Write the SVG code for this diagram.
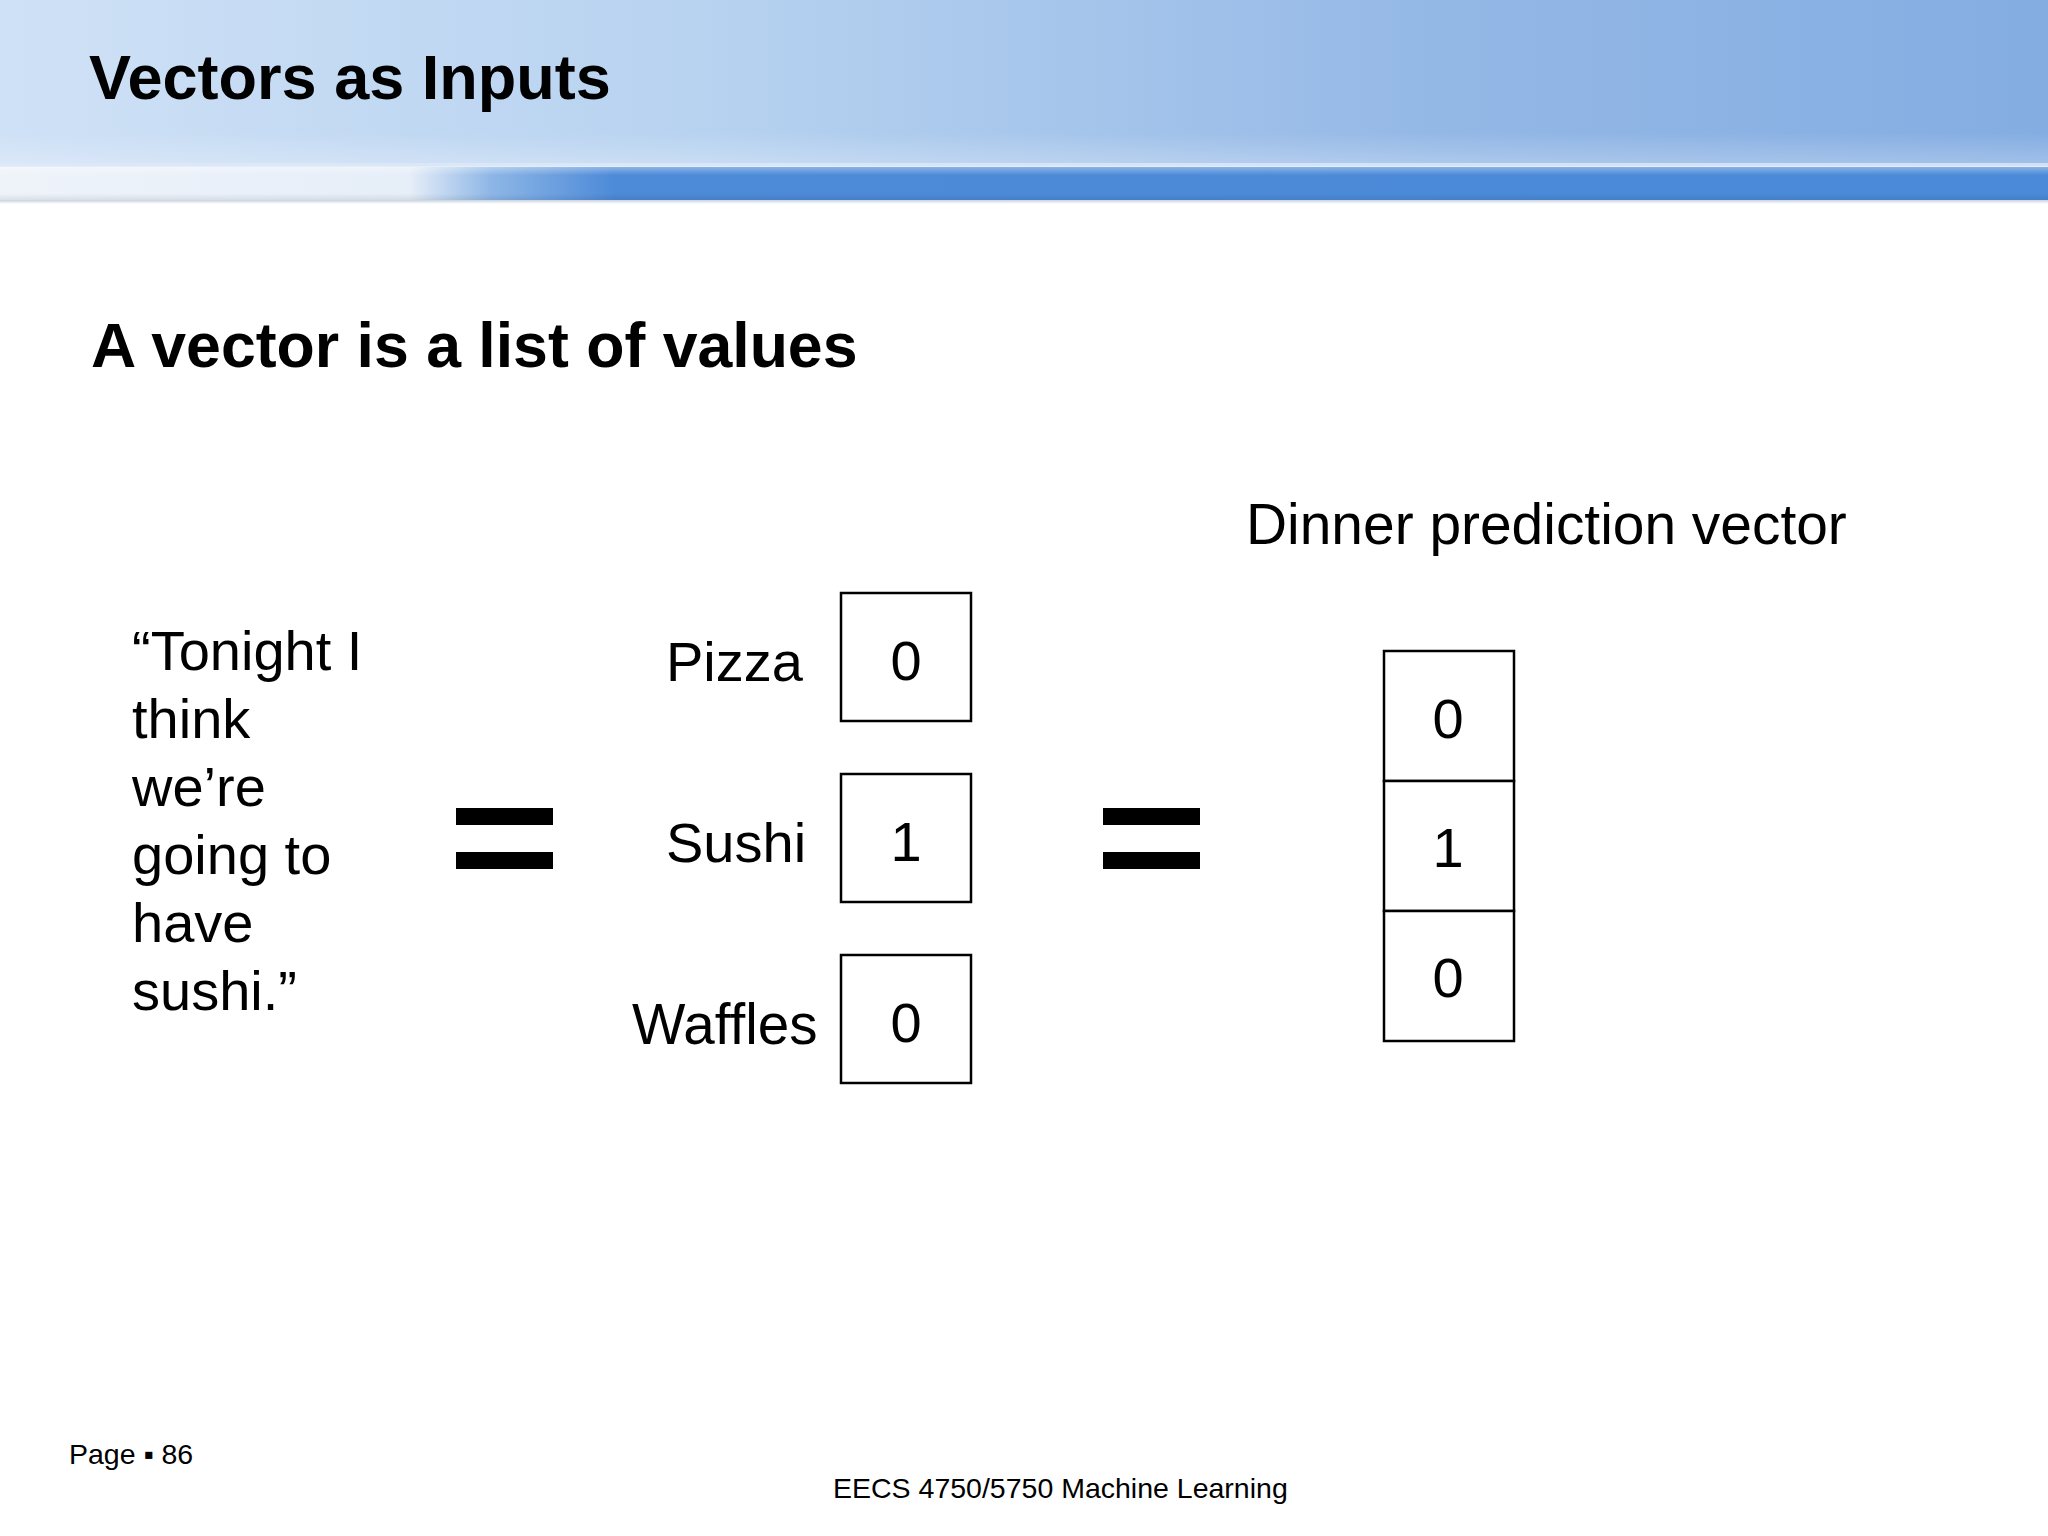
<svg xmlns="http://www.w3.org/2000/svg" width="2048" height="1536" viewBox="0 0 2048 1536">
<defs>
<linearGradient id="hdr" x1="0" y1="0" x2="1" y2="0">
<stop offset="0" stop-color="#cfe1f6"/>
<stop offset="0.35" stop-color="#b7d2f0"/>
<stop offset="0.7" stop-color="#94b8e6"/>
<stop offset="1" stop-color="#84ade2"/>
</linearGradient>
<linearGradient id="hdrV" x1="0" y1="0" x2="0" y2="1">
<stop offset="0.8" stop-color="#ffffff" stop-opacity="0"/>
<stop offset="1" stop-color="#ffffff" stop-opacity="0.25"/>
</linearGradient>
<linearGradient id="stripe" x1="0" y1="0" x2="2048" y2="0" gradientUnits="userSpaceOnUse">
<stop offset="0" stop-color="#eef3fa"/>
<stop offset="0.2" stop-color="#e6eef8"/>
<stop offset="0.24" stop-color="#8db6e6"/>
<stop offset="0.3" stop-color="#4d8ad8"/>
<stop offset="1" stop-color="#4a8ad8"/>
</linearGradient>
<linearGradient id="stripeV" x1="0" y1="0" x2="0" y2="1">
<stop offset="0" stop-color="#ffffff" stop-opacity="0.35"/>
<stop offset="0.25" stop-color="#ffffff" stop-opacity="0"/>
<stop offset="0.8" stop-color="#000000" stop-opacity="0"/>
<stop offset="1" stop-color="#000000" stop-opacity="0.08"/>
</linearGradient>
<linearGradient id="shadow" x1="0" y1="0" x2="0" y2="1">
<stop offset="0" stop-color="#c8d4e2"/>
<stop offset="1" stop-color="#ffffff"/>
</linearGradient>
</defs>
<style>
text{font-family:"Liberation Sans",Arial,sans-serif;fill:#000}
.h{font-weight:bold}
.t{font-size:56px}
.d{font-size:56px;text-anchor:middle}
.f{font-size:28.5px}
.cell{fill:#fff;stroke:#000;stroke-width:2.5}
.eq{fill:#000}
</style>
<rect width="2048" height="1536" fill="#fff"/>
<g id="header">
<rect x="0" y="0" width="2048" height="166" fill="url(#hdr)"/>
<rect x="0" y="0" width="2048" height="166" fill="url(#hdrV)"/>
<rect x="0" y="163" width="2048" height="4" fill="#dde9f7" opacity="0.8"/>
<rect x="0" y="167" width="2048" height="33" fill="url(#stripe)"/>
<rect x="0" y="167" width="2048" height="33" fill="url(#stripeV)"/>
<rect x="0" y="200" width="2048" height="4" fill="url(#shadow)"/>
<text x="89" y="99" class="h" font-size="63">Vectors as Inputs</text>
</g>
<text id="subtitle" x="91" y="367" class="h" font-size="62.6">A vector is a list of values</text>
<g id="sentence" class="t">
<text x="132" y="670">“Tonight I</text>
<text x="132" y="738">think</text>
<text x="132" y="806">we’re</text>
<text x="132" y="874">going to</text>
<text x="132" y="942">have</text>
<text x="132" y="1010">sushi.”</text>
</g>
<g id="eq1">
<rect class="eq" x="456" y="808" width="97" height="17"/>
<rect class="eq" x="456" y="852" width="97" height="17"/>
</g>
<g id="pizza">
<text x="666" y="681" class="t">Pizza</text>
<rect class="cell" x="841" y="593" width="130" height="128"/>
<text x="906" y="680" class="d">0</text>
</g>
<g id="sushi">
<text x="666" y="862" class="t">Sushi</text>
<rect class="cell" x="841" y="774" width="130" height="128"/>
<text x="906" y="861" class="d">1</text>
</g>
<g id="waffles">
<text x="632" y="1044" class="t" style="font-size:56.6px">Waffles</text>
<rect class="cell" x="841" y="955" width="130" height="128"/>
<text x="906" y="1042" class="d">0</text>
</g>
<g id="eq2">
<rect class="eq" x="1103" y="808" width="97" height="17"/>
<rect class="eq" x="1103" y="852" width="97" height="17"/>
</g>
<g id="vector">
<text x="1246" y="544" class="t" style="font-size:56.9px">Dinner prediction vector</text>
<rect class="cell" x="1384" y="651" width="130" height="130"/>
<rect class="cell" x="1384" y="781" width="130" height="130"/>
<rect class="cell" x="1384" y="911" width="130" height="130"/>
<text x="1448" y="738" class="d">0</text>
<text x="1448" y="867" class="d">1</text>
<text x="1448" y="997" class="d">0</text>
</g>
<g id="footer">
<text x="69" y="1464" class="f">Page ▪ 86</text>
<text x="833" y="1498" class="f">EECS 4750/5750 Machine Learning</text>
</g>
</svg>
